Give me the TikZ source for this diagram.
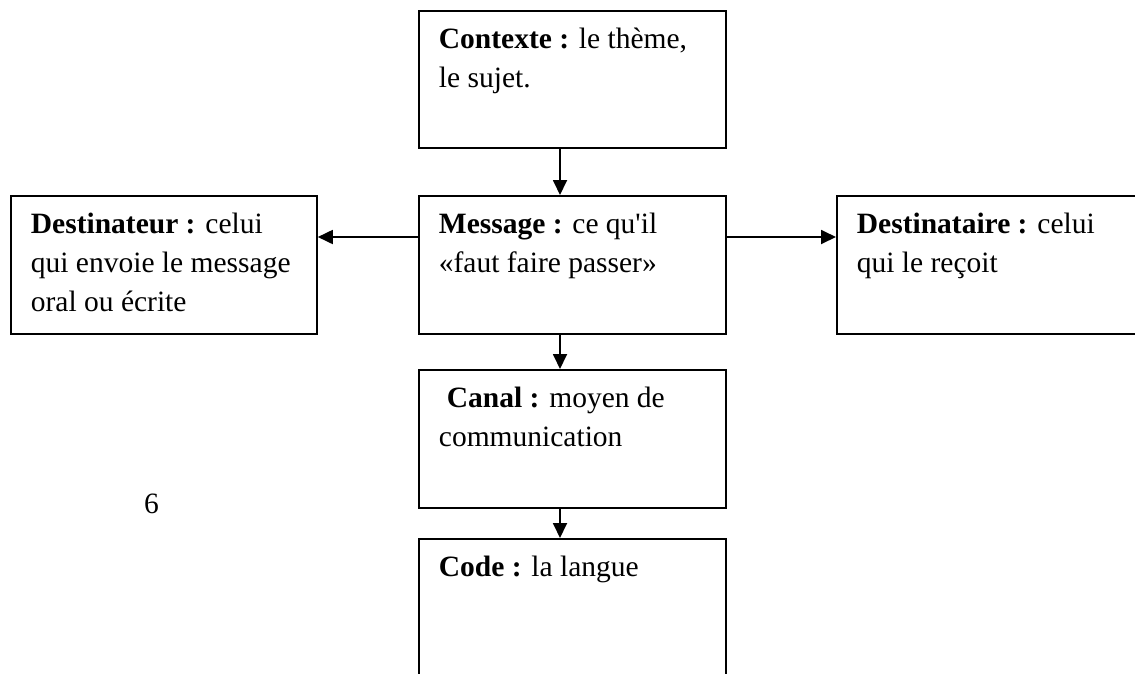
\documentclass[tikz,border=0pt]{standalone}
\usepackage{fontspec}
\setmainfont{Liberation Serif}[Ligatures=TeXOff]
\usetikzlibrary{arrows.meta}
\newcommand{\boxtext}[3]{\parbox[b][#1][t]{#2}{\raggedright\rule{0pt}{38pt}#3}}
\tikzset{
  x=1pt, y=-1pt,
  box/.style={draw, line width=1.8pt, anchor=north west, inner xsep=20pt, inner ysep=0pt, align=left},
  conn/.style={line width=1.8pt, -{Triangle[length=15pt,width=14pt]}},
}
\begin{document}
\begin{tikzpicture}[font=\fontsize{29.5}{39}\selectfont]
\useasboundingbox (0,0) rectangle (1135,673);
\node[box] (ctx) at (418,10) {\boxtext{137pt}{267pt}{\textbf{Contexte :} le thème,\\ le sujet.}};
\node[box] (msg) at (418,195) {\boxtext{138pt}{267pt}{\textbf{Message :} ce qu\symbol{"27}il\\ «faut faire passer»}};
\node[box] (dtr) at (10,195) {\boxtext{138pt}{266pt}{\textbf{Destinateur :} celui\\ qui envoie le message\\ oral ou écrite}};
\node[box] (dta) at (836,195) {\boxtext{138pt}{290pt}{\textbf{Destinataire :} celui\\ qui le reçoit}};
\node[box] (canal) at (418,369) {\boxtext{138pt}{267pt}{\hspace*{8pt}\textbf{Canal :} moyen de\\ communication}};
\node[box] (code) at (418,538) {\boxtext{150pt}{267pt}{\textbf{Code :} la langue}};
\node[anchor=base west, inner sep=0pt] (six) at (144,513) {6};
\coordinate (ax) at (560,0);
\coordinate (ay) at (0,237);
\draw[conn] (ctx.south -| ax) -- (msg.north -| ax);
\draw[conn] (msg.south -| ax) -- (canal.north -| ax);
\draw[conn] (canal.south -| ax) -- (code.north -| ax);
\draw[conn] (msg.west |- ay) -- (dtr.east |- ay);
\draw[conn] (msg.east |- ay) -- (dta.west |- ay);
\end{tikzpicture}
\end{document}
